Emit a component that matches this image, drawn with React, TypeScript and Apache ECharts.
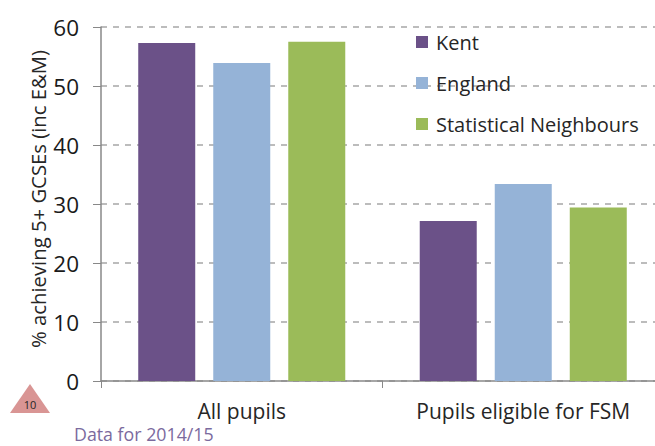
import React, { useEffect, useRef } from "react";
import * as echarts from "echarts";

const categories = ["All pupils", "Pupils eligible for FSM"];
const kent = [57.3, 27.1];
const england = [53.9, 33.4];
const statNeighbours = [57.5, 29.4];
const yTicks = [0, 10, 20, 30, 40, 50, 60];
const yTitle = "% achieving 5+ GCSEs (inc E&M)";

const FONT = "'Open Sans', 'Noto Sans', sans-serif";

export default function App() {
  const ref = useRef<HTMLDivElement>(null);
  useEffect(() => {
    if (!ref.current) return;
    const chart = echarts.init(ref.current, undefined, { renderer: "svg" });
    chart.setOption({
      animation: false,
      textStyle: { fontFamily: FONT },
      grid: { left: 101, width: 563, top: 27, bottom: 65, containLabel: false, outerBoundsMode: "none" },
      legend: {
        orient: "vertical",
        left: 411,
        top: 27,
        itemWidth: 12,
        itemHeight: 12,
        itemGap: 21,
        icon: "rect",
        textStyle: { fontSize: 20, color: "#262626", fontFamily: FONT, padding: [0, 0, 0, 3] },
        data: ["Kent", "England", "Statistical Neighbours"],
      },
      xAxis: {
        type: "category",
        data: categories,
        axisLine: { lineStyle: { color: "#888888", width: 1.5 } },
        axisTick: { show: true, length: 7, lineStyle: { color: "#888888" } },
        axisLabel: { fontSize: 21, color: "#262626", margin: 19, interval: 0, fontFamily: FONT },
      },
      yAxis: {
        type: "value",
        min: 0,
        max: 60,
        interval: 10,
        axisLine: { show: true, lineStyle: { color: "#888888", width: 1.5 } },
        axisTick: { show: true, length: 8, lineStyle: { color: "#888888" } },
        axisLabel: { fontSize: 22.5, color: "#1a1a1a", margin: 22, fontFamily: FONT,
          formatter: (v: number) => (yTicks.includes(v) ? String(v) : "") },
        splitLine: { lineStyle: { color: "#a6a6a6", type: [6, 6], width: 1.5 } },
      },
      series: [
        { name: "Kent", type: "bar", data: kent, barWidth: 57, barGap: "31.6%",
          itemStyle: { color: "#6b5188" } },
        { name: "England", type: "bar", data: england, barWidth: 57, barGap: "31.6%",
          itemStyle: { color: "#95b3d7" } },
        { name: "Statistical Neighbours", type: "bar", data: statNeighbours, barWidth: 57, barGap: "31.6%",
          itemStyle: { color: "#9bbb59" } },
      ],
      graphic: [
        { type: "text", x: 38, y: 199, rotation: Math.PI / 2,
          style: { text: yTitle, fontSize: 20.3, fill: "#262626", align: "center",
            verticalAlign: "middle", fontFamily: FONT } },
        { type: "polygon", shape: { points: [[30, 384], [10, 413], [50, 413]] },
          style: { fill: "#d99594" } },
        { type: "text", x: 30, y: 404, style: { text: "10", fontSize: 11, fill: "#262626",
          align: "center", verticalAlign: "middle", fontFamily: FONT } },
        { type: "text", x: 74, y: 434, style: { text: "Data for 2014/15", fontSize: 17.8,
          fill: "#7b6a9e", verticalAlign: "middle", fontFamily: FONT } },
      ],
    });
    return () => chart.dispose();
  }, []);
  return <div ref={ref} style={{ width: 655, height: 446, position: "absolute", left: 0, top: 0 }} />;
}
